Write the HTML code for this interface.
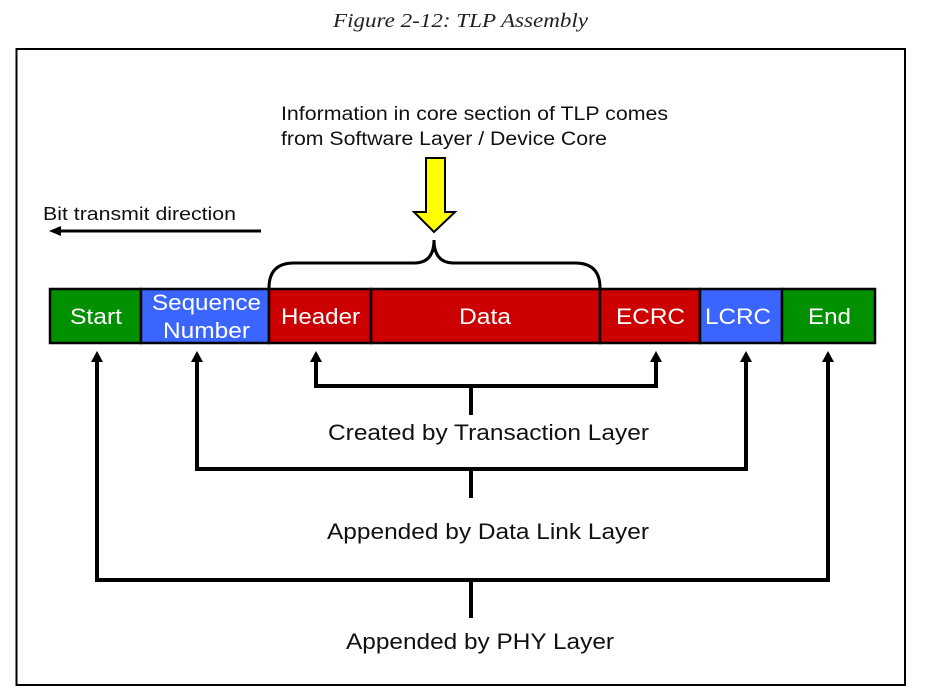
<!DOCTYPE html>
<html><head><meta charset="utf-8"><style>
html,body{margin:0;padding:0;background:#fff;width:928px;height:700px;overflow:hidden}
svg text{font-family:"Liberation Sans",sans-serif}
</style></head><body>
<svg width="928" height="700" viewBox="0 0 928 700" xmlns="http://www.w3.org/2000/svg">
<text x="333" y="27" textLength="255" lengthAdjust="spacingAndGlyphs" font-style="italic" font-size="20" fill="#222" style="font-family:'Liberation Serif',serif">Figure 2-12: TLP Assembly</text>
<rect x="16.5" y="49" width="888.5" height="636" fill="none" stroke="#000" stroke-width="2"/>
<text x="281" y="120" font-size="19" textLength="387" lengthAdjust="spacingAndGlyphs" fill="#111">Information in core section of TLP comes</text>
<text x="281" y="145" font-size="19" textLength="326" lengthAdjust="spacingAndGlyphs" fill="#111">from Software Layer / Device Core</text>
<text x="43" y="220" font-size="18" textLength="193" lengthAdjust="spacingAndGlyphs" fill="#111">Bit transmit direction</text>
<line x1="60" y1="231" x2="261" y2="231" stroke="#000" stroke-width="3"/>
<polygon points="49,231 61,226 61,236" fill="#000"/>
<polygon points="426,158 445,158 445,212 455,212 434,232 414,212 426,212" fill="#ffff00" stroke="#000" stroke-width="2"/>
<path d="M269,288 Q269,263 294,263 L414,263 Q434,263 434,240 Q434,263 454,263 L575,263 Q600,263 600,288" fill="none" stroke="#000" stroke-width="3"/>
<g stroke="#000" stroke-width="2.5">
<rect x="50" y="289" width="91" height="54" fill="#009000"/>
<rect x="141" y="289" width="128" height="54" fill="#3a66ff"/>
<rect x="269" y="289" width="102" height="54" fill="#cc0000"/>
<rect x="371" y="289" width="229" height="54" fill="#cc0000"/>
<rect x="600" y="289" width="100" height="54" fill="#cc0000"/>
<rect x="700" y="289" width="82" height="54" fill="#3a66ff"/>
<rect x="782" y="289" width="93" height="54" fill="#009000"/>
</g>
<g fill="#fff" font-size="22" lengthAdjust="spacingAndGlyphs">
<text x="70" y="324" textLength="52" lengthAdjust="spacingAndGlyphs">Start</text>
<text x="152" y="310" textLength="109" lengthAdjust="spacingAndGlyphs">Sequence</text>
<text x="163" y="338" textLength="87" lengthAdjust="spacingAndGlyphs">Number</text>
<text x="281" y="324" textLength="79" lengthAdjust="spacingAndGlyphs">Header</text>
<text x="459" y="324" textLength="52" lengthAdjust="spacingAndGlyphs">Data</text>
<text x="616" y="324" textLength="69" lengthAdjust="spacingAndGlyphs">ECRC</text>
<text x="705" y="324" textLength="66" lengthAdjust="spacingAndGlyphs">LCRC</text>
<text x="808" y="324" textLength="43" lengthAdjust="spacingAndGlyphs">End</text>
</g>
<g fill="none" stroke="#000" stroke-width="4">
<polyline points="316,358 316,386 656,386 656,358"/>
<line x1="471" y1="386" x2="471" y2="415"/>
<polyline points="197,358 197,469 746,469 746,358"/>
<line x1="471" y1="469" x2="471" y2="498"/>
<polyline points="97,358 97,580 828,580 828,358"/>
<line x1="471" y1="580" x2="471" y2="618"/>
</g>
<g fill="#000">
<polygon points="316,351 310,362 322,362"/>
<polygon points="656,351 650,362 662,362"/>
<polygon points="197,351 191,362 203,362"/>
<polygon points="746,351 740,362 752,362"/>
<polygon points="97,351 91,362 103,362"/>
<polygon points="828,351 822,362 834,362"/>
</g>
<g font-size="22" fill="#111">
<text x="328" y="440" textLength="321" lengthAdjust="spacingAndGlyphs">Created by Transaction Layer</text>
<text x="327" y="539" textLength="322" lengthAdjust="spacingAndGlyphs">Appended by Data Link Layer</text>
<text x="346" y="649" textLength="268" lengthAdjust="spacingAndGlyphs">Appended by PHY Layer</text>
</g>
</svg>
</body></html>
